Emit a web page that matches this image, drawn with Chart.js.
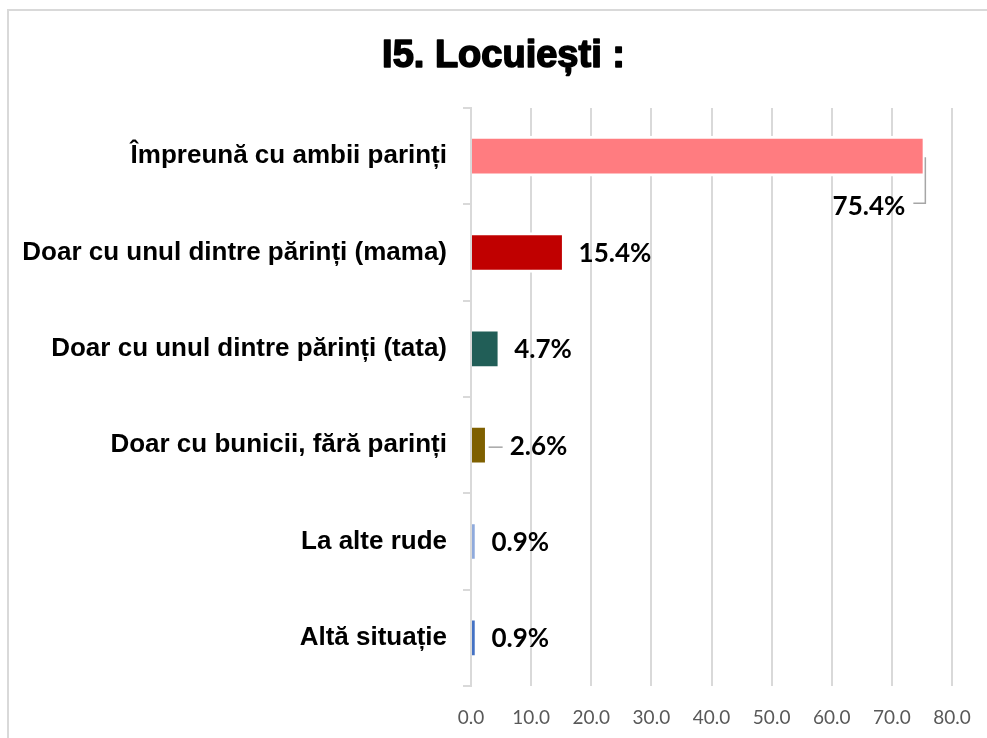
<!DOCTYPE html>
<html>
<head>
<meta charset="utf-8">
<script src="https://cdn.jsdelivr.net/npm/chart.js@4"></script>
<style>
  html, body { margin: 0; padding: 0; background: #fff; overflow: hidden; }
  #wrap { position: relative; width: 987px; height: 738px; }
  #frame { position: absolute; left: 7px; top: 9px; width: 1000px; height: 760px; border: 2px solid #d9d9d9; box-sizing: border-box; }
  canvas { position: absolute; left: 0; top: 0; }
</style>
</head>
<body>
<div id="wrap">
  <div id="frame"></div>
  <canvas id="chart" width="987" height="738"></canvas>
</div>
<script>
// data
const categories = [
  'Împreună cu ambii parinți',
  'Doar cu unul dintre părinți (mama)',
  'Doar cu unul dintre părinți (tata)',
  'Doar cu bunicii, fără parinți',
  'La alte rude',
  'Altă situație'
];
const values = [75.4, 15.4, 4.7, 2.6, 0.9, 0.9];
const barColors = ['#FF7C80', '#C00000', '#215E57', '#7F6000', '#8FAADC', '#4472C4'];
const xTicks = [0, 10, 20, 30, 40, 50, 60, 70, 80];
const chartTitle = 'I5. Locuiești :';

// how each value label sits next to its bar
const labelPlacement = ['below', 'right', 'right', 'leader', 'right', 'right'];

const titlePlugin = {
  id: 'titleText',
  afterDraw(chart) {
    const ctx = chart.ctx;
    ctx.save();
    ctx.font = 'bold 38px "Liberation Sans", Arial, sans-serif';
    ctx.fillStyle = '#000';
    ctx.strokeStyle = '#000';
    ctx.lineWidth = 1.6;
    ctx.lineJoin = 'round';
    ctx.textAlign = 'center';
    ctx.textBaseline = 'middle';
    const x = chart.width / 2 + 10;
    ctx.fillText(chartTitle, x, 57);
    ctx.strokeText(chartTitle, x, 57);
    ctx.restore();
  }
};

const valueLabels = {
  id: 'valueLabels',
  afterDatasetsDraw(chart) {
    const ctx = chart.ctx;
    const meta = chart.getDatasetMeta(0);
    ctx.save();
    ctx.font = 'bold 26px Lato, "Open Sans", sans-serif';
    ctx.fillStyle = '#000';
    ctx.textBaseline = 'middle';
    ctx.strokeStyle = '#A6A6A6';
    ctx.lineWidth = 1.5;
    meta.data.forEach((bar, i) => {
      const txt = values[i].toFixed(1) + '%';
      const mode = labelPlacement[i];
      if (mode === 'below') {
        const yLine = bar.y + 47;
        ctx.beginPath();
        ctx.moveTo(bar.x + 1, bar.y + 1);
        ctx.lineTo(bar.x + 1, yLine);
        ctx.lineTo(bar.x - 11, yLine);
        ctx.stroke();
        ctx.textAlign = 'right';
        ctx.fillText(txt, bar.x - 19, yLine + 3);
      } else if (mode === 'leader') {
        ctx.beginPath();
        ctx.moveTo(bar.x + 2, bar.y + 2);
        ctx.lineTo(bar.x + 16, bar.y + 2);
        ctx.stroke();
        ctx.textAlign = 'left';
        ctx.fillText(txt, bar.x + 23, bar.y + 1);
      } else {
        ctx.textAlign = 'left';
        ctx.fillText(txt, bar.x + 15, bar.y + 1);
      }
    });
    ctx.restore();
  }
};

new Chart(document.getElementById('chart'), {
  type: 'bar',
  data: {
    labels: categories,
    datasets: [{
      data: values,
      backgroundColor: barColors,
      borderColor: '#ffffff',
      borderWidth: { top: 3, bottom: 3, right: 2, left: 0 },
      barThickness: 40
    }]
  },
  options: {
    indexAxis: 'y',
    responsive: false,
    animation: false,
    layout: { padding: { top: 108, right: 35, bottom: 0, left: 0 } },
    plugins: {
      legend: { display: false },
      tooltip: { enabled: false },
      title: { display: false }
    },
    scales: {
      x: {
        min: 0,
        max: 80,
        afterBuildTicks: (scale) => { scale.ticks = xTicks.map(v => ({ value: v })); },
        afterFit: (scale) => {
          scale.height = 52;
          scale.paddingLeft = 0;
          scale.paddingRight = 0;
        },
        grid: { color: '#D9D9D9', lineWidth: 2, drawTicks: false },
        border: { display: false },
        ticks: {
          color: '#595959',
          padding: 20,
          font: { family: 'Lato, "Open Sans", sans-serif', size: 19 },
          callback: (v) => Number(v).toFixed(1)
        }
      },
      y: {
        afterFit: (scale) => { scale.width = 471; },
        grid: { display: true, drawOnChartArea: false, drawTicks: true, tickLength: 8, color: '#D9D9D9', lineWidth: 2 },
        border: { display: true, color: '#D9D9D9', width: 2 },
        ticks: {
          color: '#000',
          padding: 16,
          font: { family: '"Liberation Sans", Arial, sans-serif', size: 26, weight: 'bold' }
        }
      }
    }
  },
  plugins: [titlePlugin, valueLabels]
});
</script>
</body>
</html>
